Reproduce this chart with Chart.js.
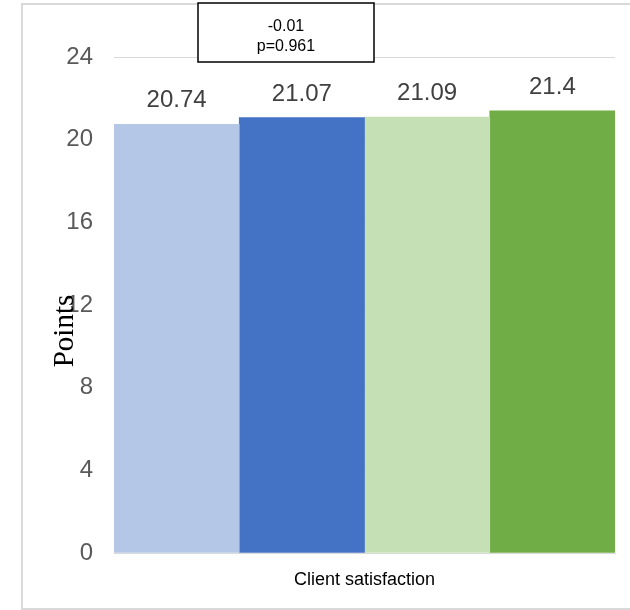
<!DOCTYPE html>
<html lang="en">
<head>
    <meta charset="UTF-8">
    <title>Client satisfaction</title>
    <script src="https://cdn.jsdelivr.net/npm/chart.js"></script>
    <style>
        html, body { margin: 0; padding: 0; background: #fff; }
        #wrap { width: 630px; height: 610px; position: relative; }
    </style>
</head>
<body>
    <div id="wrap"><canvas id="chart"></canvas></div>

    <script>
        // chart data
        const categories = ['Client satisfaction'];
        const seriesNames = ['Group A', 'Group B', 'Group C', 'Group D'];
        const seriesValues = [20.74, 21.07, 21.09, 21.4];
        const seriesLabels = ['20.74', '21.07', '21.09', '21.4'];
        const seriesColors = ['#b4c7e7', '#4472c4', '#c5e0b4', '#70ad47'];
        const yTicks = [0, 4, 8, 12, 16, 20, 24];
        const noteLines = ['-0.01', 'p=0.961'];

        const SANS = '"Liberation Sans", Arial, sans-serif';

        // frame, value labels, axis title and note box
        const extras = {
            id: 'extras',
            beforeDraw(chart) {
                const ctx = chart.ctx;
                ctx.save();
                ctx.strokeStyle = '#d9d9d9';
                ctx.lineWidth = 2;
                ctx.strokeRect(22, 4, 700, 605);
                ctx.restore();
            },
            afterDatasetsDraw(chart) {
                const ctx = chart.ctx;
                ctx.save();
                ctx.font = '24px ' + SANS;
                ctx.fillStyle = '#404040';
                ctx.textAlign = 'center';
                ctx.textBaseline = 'alphabetic';
                chart.data.datasets.forEach((ds, i) => {
                    const bar = chart.getDatasetMeta(i).data[0];
                    ctx.fillText(seriesLabels[i], bar.x, bar.y - 17);
                });

                // y axis title
                ctx.save();
                ctx.translate(65, 331);
                ctx.rotate(-Math.PI / 2);
                ctx.font = '29px "Liberation Serif", "Times New Roman", serif';
                ctx.fillStyle = '#000';
                ctx.textBaseline = 'middle';
                ctx.fillText('Points', 0, 0);
                ctx.restore();

                // note box
                const area = chart.chartArea;
                const bx = area.left + 84, by = 3, bw = 176, bh = 59;
                ctx.fillStyle = '#fff';
                ctx.fillRect(bx, by, bw, bh);
                ctx.strokeStyle = '#000';
                ctx.lineWidth = 1.5;
                ctx.strokeRect(bx, by, bw, bh);
                ctx.font = '16px ' + SANS;
                ctx.fillStyle = '#000';
                ctx.textBaseline = 'middle';
                ctx.fillText(noteLines[0], bx + bw / 2, by + 24);
                ctx.fillText(noteLines[1], bx + bw / 2, by + 44);
                ctx.restore();
            }
        };

        const ctx = document.getElementById('chart').getContext('2d');
        new Chart(ctx, {
            type: 'bar',
            data: {
                labels: categories,
                datasets: seriesNames.map((name, i) => ({
                    label: name,
                    data: [seriesValues[i]],
                    backgroundColor: seriesColors[i],
                    categoryPercentage: 1,
                    barPercentage: 1,
                    borderWidth: 0
                }))
            },
            options: {
                responsive: true,
                maintainAspectRatio: false,
                animation: false,
                layout: { padding: { left: 0, right: 15, top: 57, bottom: 0 } },
                plugins: {
                    legend: { display: false },
                    tooltip: { enabled: false }
                },
                scales: {
                    x: {
                        afterFit(axis) { axis.height = 57; },
                        grid: { display: false },
                        border: { color: '#d9d9d9', width: 1 },
                        ticks: {
                            color: '#000',
                            padding: 8,
                            font: { size: 18, family: SANS }
                        }
                    },
                    y: {
                        min: 0,
                        max: 24,
                        afterBuildTicks(axis) {
                            axis.ticks = yTicks.map(v => ({ value: v }));
                        },
                        afterFit(axis) { axis.width = 114; },
                        grid: { color: '#d9d9d9', drawTicks: false },
                        border: { display: false },
                        ticks: {
                            color: '#595959',
                            padding: 21,
                            font: { size: 24, family: SANS }
                        }
                    }
                }
            },
            plugins: [extras]
        });
    </script>
</body>
</html>
